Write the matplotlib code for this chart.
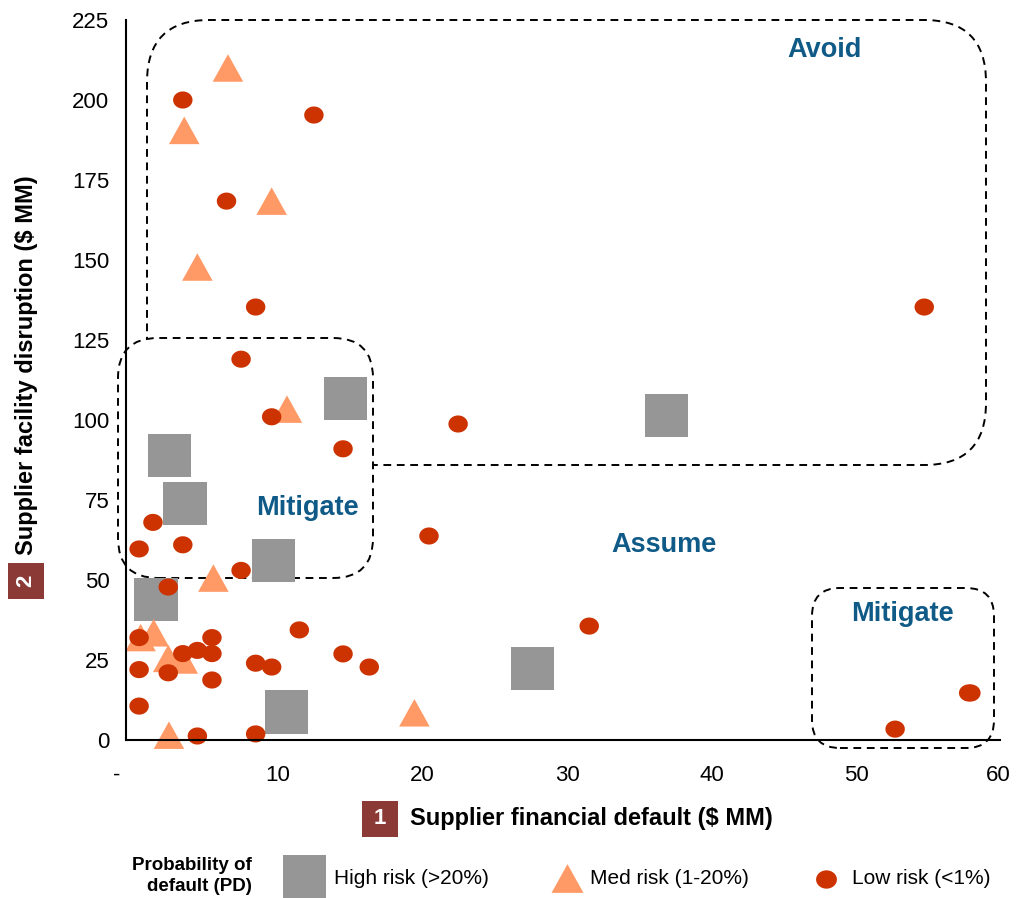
import matplotlib
matplotlib.use("Agg")
import numpy as np
import matplotlib.pyplot as plt
from matplotlib.patches import FancyBboxPatch, Rectangle
from matplotlib.ticker import FuncFormatter
from matplotlib.path import Path
from matplotlib.transforms import ScaledTranslation

plt.rcParams['font.family'] = ['Liberation Sans', 'DejaVu Sans']

# ---- data ----
high_x = [15.1, 37.1, 3.0, 4.05, 10.1, 2.06, 27.9, 11.05]
high_y = [106.6, 101.3, 89.0, 74.0, 56.0, 44.0, 22.2, 8.75]

med_x = [7.0, 4.0, 10.0, 4.9, 11.05, 6.0, 1.0, 1.9, 2.9, 3.9, 19.8, 2.95]
med_y = [210.0, 190.5, 168.4, 147.8, 103.4, 50.6, 32.0, 33.5, 25.5, 25.0, 8.5, 1.5]

low_x = [3.9, 12.9, 6.9, 8.9, 54.8, 7.9, 10.0, 22.8, 14.9, 1.85, 3.9, 0.9,
         20.8, 7.9, 2.9, 0.9, 3.9, 4.9, 5.9, 5.9, 0.9, 2.9, 5.9, 0.9, 8.9,
         10.0, 11.9, 14.9, 16.7, 4.9, 8.9, 31.8, 52.8, 57.85, 58.0]
low_y = [200.0, 195.3, 168.4, 135.3, 135.3, 119.0, 101.0, 98.75, 91.0, 68.0,
         61.0, 59.7, 63.75, 53.0, 47.8, 32.0, 27.0, 28.0, 32.0, 27.0, 22.0,
         21.0, 18.75, 10.6, 24.0, 22.8, 34.4, 26.9, 22.8, 1.25, 1.9, 35.6,
         3.4, 14.7, 14.7]

x_ticks = [0, 10, 20, 30, 40, 50, 60]
y_ticks = [0, 25, 50, 75, 100, 125, 150, 175, 200, 225]

GRAY = '#969696'
SALMON = '#FF9966'
RED = '#CC3300'
BLUE = '#0F5A87'
BOXRED = '#8B3A36'

# marker shapes: slightly flattened ellipse and triangle
t = np.linspace(0, 2 * np.pi, 64)
ELLIPSE = Path(np.column_stack([np.cos(t), 0.88 * np.sin(t)]), closed=True)
TRI = Path([(0, 0.9), (-1, -0.9), (1, -0.9), (0, 0.9)], closed=True)

W, H, DPI = 1016, 898, 100
fig = plt.figure(figsize=(W / DPI, H / DPI), dpi=DPI)
ax_l, ax_r, ax_b, ax_t = 126 / W, 1000 / W, 1 - 740 / H, 1 - 20 / H
ax = fig.add_axes([ax_l, ax_b, ax_r - ax_l, ax_t - ax_b])
ax.set_xlim(0, 60)
ax.set_ylim(0, 225)
for s in ['top', 'right']:
    ax.spines[s].set_visible(False)
for s in ['left', 'bottom']:
    ax.spines[s].set_linewidth(1.5)
    ax.spines[s].set_zorder(5)
ax.set_xticks(x_ticks)
ax.set_yticks(y_ticks)
ax.xaxis.set_major_formatter(FuncFormatter(lambda v, p: '-' if v == 0 else f'{v:.0f}'))
ax.tick_params(axis='x', length=0, pad=18, labelsize=16)
ax.tick_params(axis='y', length=0, pad=12, labelsize=16)
offsets = [-9, 6, 5, 4, 3, 2, -2]
for off, lbl in zip(offsets, ax.get_xticklabels()):
    lbl.set_transform(lbl.get_transform() + ScaledTranslation(off / DPI, 0, fig.dpi_scale_trans))

px_x = (ax_r - ax_l) * W / 60.0
px_y = (ax_t - ax_b) * H / 225.0
aspect = px_x / px_y


def rbox(x0, y0, x1, y1, rpx, fill=False):
    p = FancyBboxPatch((x0, y0), x1 - x0, y1 - y0,
                       boxstyle=f"round,pad=0,rounding_size={rpx / px_x}",
                       mutation_aspect=aspect, transform=ax.transData,
                       fc='white' if fill else 'none', ec='black', lw=1.4,
                       linestyle=(0, (4.0, 2.9)), clip_on=False, zorder=1)
    ax.add_patch(p)


def dx(p):
    return (p - 126) / px_x


def dy(p):
    return (740 - p) / px_y


# Avoid box, then Mitigate boxes (white fill hides the overlap)
rbox(dx(147), dy(465), dx(986), dy(20), 62)
rbox(dx(118), dy(578), dx(373), dy(338), 40, fill=True)
rbox(dx(812), dy(748), dx(994), dy(588), 28)

ax.scatter(high_x, high_y, marker='s', s=31 ** 2, c=GRAY, edgecolors='none', zorder=3, clip_on=False)
ax.scatter(med_x, med_y, marker=TRI, s=22 ** 2, c=SALMON, edgecolors='none', zorder=3, clip_on=False)
ax.scatter(low_x, low_y, marker=ELLIPSE, s=14 ** 2, c=RED, edgecolors='none', zorder=4, clip_on=False)

lab = dict(color=BLUE, fontsize=19.5, fontweight='bold', ha='center', va='center')
ax.text(dx(825), dy(50), 'Avoid', **lab)
ax.text(dx(307), dy(508), 'Mitigate', **lab)
ax.text(dx(664), dy(545), 'Assume', **lab)
ax.text(dx(902), dy(614), 'Mitigate', **lab)

# axis titles with numbered boxes
fig.patches.append(Rectangle((362 / W, 1 - 837 / H), 36 / W, 36 / H, transform=fig.transFigure,
                             fc=BOXRED, ec='none'))
fig.text(380 / W, 1 - 819 / H, '1', color='white', fontsize=16, fontweight='bold', ha='center', va='center')
fig.text(410 / W, 1 - 819 / H, 'Supplier financial default ($ MM)', fontsize=17, fontweight='bold',
         ha='left', va='center')

fig.patches.append(Rectangle((8 / W, 1 - 599 / H), 36 / W, 36 / H, transform=fig.transFigure,
                             fc=BOXRED, ec='none'))
fig.text(26 / W, 1 - 581 / H, '2', color='white', fontsize=16, fontweight='bold', ha='center', va='center',
         rotation=90)
fig.text(27 / W, 1 - 555 / H, 'Supplier facility disruption ($ MM)', fontsize=17, fontweight='bold',
         ha='center', va='bottom', rotation=90)

# legend
fig.text(252 / W, 1 - 876 / H, 'Probability of\ndefault (PD)', fontsize=13.5, fontweight='bold',
         ha='right', va='center', linespacing=1.25)
fig.patches.append(Rectangle((283 / W, 1 - 898 / H), 43 / W, 43 / H, transform=fig.transFigure,
                             fc=GRAY, ec='none'))
fig.text(334 / W, 1 - 879 / H, 'High risk (>20%)', fontsize=15, ha='left', va='center')
fig.lines.append(plt.Line2D([567 / W], [1 - 878 / H], marker=TRI, markersize=23, color=SALMON,
                            markeredgewidth=0, transform=fig.transFigure, linestyle='none'))
fig.text(590 / W, 1 - 879 / H, 'Med risk (1-20%)', fontsize=15, ha='left', va='center')
fig.lines.append(plt.Line2D([826 / W], [1 - 879 / H], marker=ELLIPSE, markersize=15, color=RED,
                            markeredgewidth=0, transform=fig.transFigure, linestyle='none'))
fig.text(852 / W, 1 - 879 / H, 'Low risk (<1%)', fontsize=15, ha='left', va='center')

fig.savefig('out.png', dpi=DPI)
